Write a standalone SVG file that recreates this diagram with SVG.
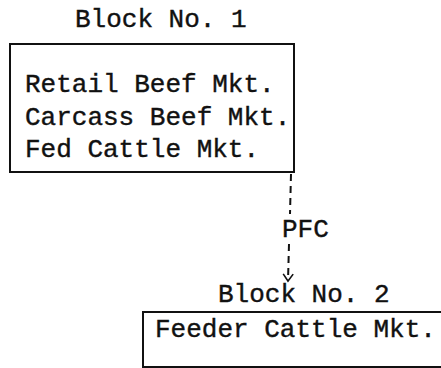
<svg xmlns="http://www.w3.org/2000/svg" width="441" height="368" viewBox="0 0 441 368">
<defs>
<style>
text{font-family:"Liberation Mono","Courier New",monospace;font-size:26px;fill:#111;stroke:#111;stroke-width:0.4}
.box{fill:none;stroke:#111;stroke-width:2}
.dash{fill:none;stroke:#111;stroke-width:2;stroke-dasharray:7,5}
</style>
<marker id="arr" markerWidth="12" markerHeight="12" refX="10" refY="6" orient="auto" markerUnits="userSpaceOnUse">
<path d="M3,1 L10,6 L3,11" fill="none" stroke="#111" stroke-width="1.6"/>
</marker>
</defs>
<g id="block1">
<text x="75" y="27">Block No. 1</text>
<rect class="box" x="10" y="44" width="284" height="128"/>
<text x="25" y="92">Retail Beef Mkt.</text>
<text x="25" y="125">Carcass Beef Mkt.</text>
<text x="25" y="157">Fed Cattle Mkt.</text>
</g>
<g id="block2">
<text x="218" y="302">Block No. 2</text>
<rect class="box" x="143" y="312" width="310" height="55"/>
<text x="155" y="337">Feeder Cattle Mkt.</text>
</g>
<g id="connectors">
<path class="dash" d="M291,174 L290,214"/>
<text x="282" y="237">PFC</text>
<path class="dash" d="M289,244 L288,281" marker-end="url(#arr)"/>
</g>
</svg>
